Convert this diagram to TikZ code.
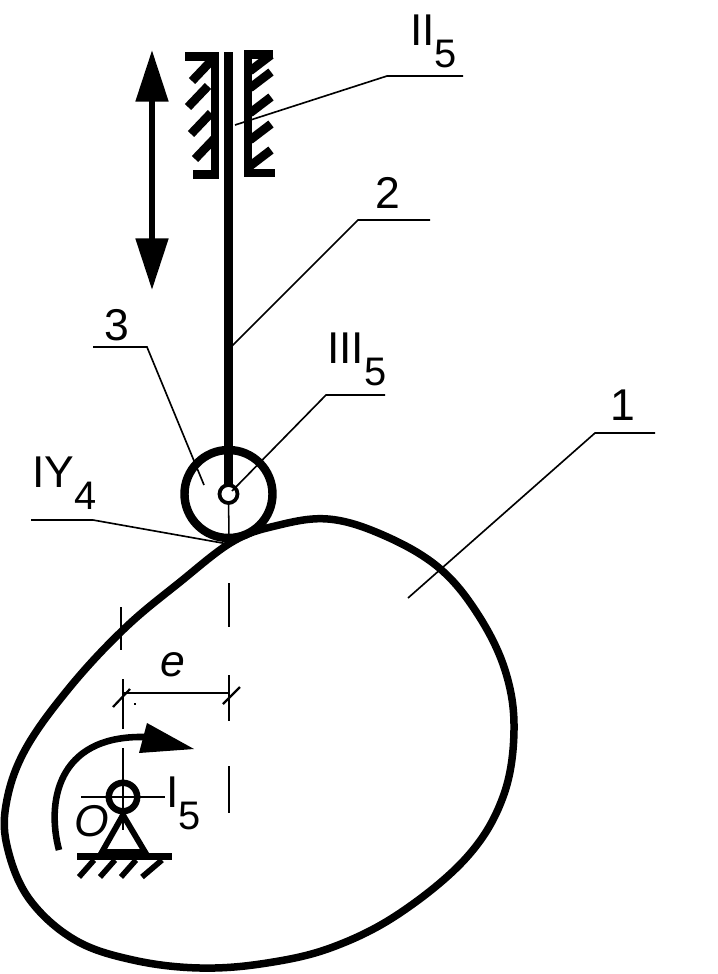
\documentclass[tikz,border=0pt]{standalone}
\usepackage{fontspec}
\setmainfont{Liberation Sans}
\usetikzlibrary{arrows.meta}
\newcommand{\subfive}[2]{#1\raisebox{-19pt}{\fontsize{34}{34}\selectfont #2}}
\tikzset{
 thin line/.style={black, line width=1.4pt},
 axis line/.style={black, line width=1.3pt},
 bar/.style={black, line width=7.6pt},
 hatch/.style={black, line width=7.4pt},
 txt/.style={inner sep=0, anchor=base west, font=\fontsize{38}{40}\selectfont},
 itxt/.style={txt, font=\fontsize{38}{40}\selectfont\itshape},
}
\begin{document}
\begin{tikzpicture} [x=.03cm, y=-.03cm]
\useasboundingbox (0,0) rectangle (717,974);
\coordinate (O) at (123,797);
\coordinate (R) at (228.5,494);
\coordinate (top) at (228.5,52);
% cam
\draw[black, line width=6.4pt] plot[smooth cycle, tension=.62] coordinates {
 (232,542) (275,526) (328,519) (383,535) (438,567) (477,613) (505,670) (514,730)
 (503,797) (467,857) (400,913) (333,947) (267,963) (200,968) (133,960) (75,940)
 (30,900) (8,850) (6,805) (25,750) (70,687) (125,628) (180,582)};
% guide
\draw[bar] (185,56.5) -- (215,56.5) -- (215,174.5) -- (193,174.5);
\draw[bar] (273,54.5) -- (248,54.5) -- (248,173) -- (275,173);
\foreach \xa/\ya in {192/81, 188/107, 191/134, 195/159} {
 \draw[hatch] (\xa,\ya) --++(20,-21);
}
\foreach \xa/\ya in {250/71, 250/88, 250/113, 250/140, 250/166} {
 \draw[hatch] (\xa,\ya) --++(21,-16);
}
% rod and roller
\draw[black, line width=7.4pt] (top) -- (R);
\draw[axis line] (R) -- (229,540);
\draw[black, line width=7.2pt] (R) circle (44);
\draw[black, fill=white, line width=3.2pt] (R) circle (9);
% double arrow
\coordinate (up) at (152,50);
\coordinate (dn) at (152,290);
\draw[black, line width=5.2pt, {Triangle[length=44pt,width=27pt]}-{Triangle[length=44pt,width=27pt]}] (up) -- (dn);
% axes
\draw[axis line] (121,607) -- (121,650);
\foreach \ya/\yb in {679/729, 748/830} {
 \draw[axis line] (123,\ya) -- (123,\yb);
}
\foreach \ya/\yb in {583/627, 675/721, 766/813} {
 \draw[axis line] (229,\ya) -- (229,\yb);
}
\draw[axis line] (81,797) -- (165,797);
% dimension e
\draw[axis line] (123,693) -- (229,693);
\draw[black, line width=1.9pt] (113,707) -- (130,689);
\draw[black, line width=1.9pt] (223,704) -- (240,687);
\fill[black] (134,703) rectangle (136,705);
% rotation arrow
\draw[black, line width=5.6pt] (59,850) .. controls (47,805) and (55,735) .. (145,737);
\fill[black] (194,749) -- (147,723) -- (139,753) -- cycle;
% support
\draw[black, line width=5pt] (123,815) -- (102,852) -- (145,852) -- cycle;
\draw[black, line width=5.5pt] (O) circle (14.2);
\draw[black, line width=6pt] (77,856.5) -- (172,856.5);
\foreach \xa/\xb in {79/94, 100/115, 121/136, 142/162} {
 \draw[black, line width=4.8pt] (\xa,877) -- (\xb,860);
}
% labels
\node[txt] (lII) at (410,45) {\subfive{II}{5}};
\node[txt] (l2) at (375,208) {2};
\node[txt] (l3) at (104,340) {3};
\node[txt] (lIII) at (327,363) {\subfive{III}{5}};
\node[txt] (l1) at (610,420) {1};
\node[txt] (lIY) at (32,487) {\subfive{IY}{4}};
\node[txt] (lI) at (166,807) {\subfive{I}{5}};
\node[itxt] (le) at (160,676) {e};
\node[itxt] (lO) at (74,836) {O};
% leaders
\foreach \xa/\ya/\xb/\yb/\xc/\yc in {235/125/387/76/463/76, 232/346/358/220/430/220,
  204/485/147/347/93/347, 232/491/326/395/385/395, 408/598/595/433/655/433,
  228/544/93/520/31/520} {
 \draw[thin line] (\xa,\ya) -- (\xb,\yb) -- (\xc,\yc);
}
\end{tikzpicture}
\end{document}
